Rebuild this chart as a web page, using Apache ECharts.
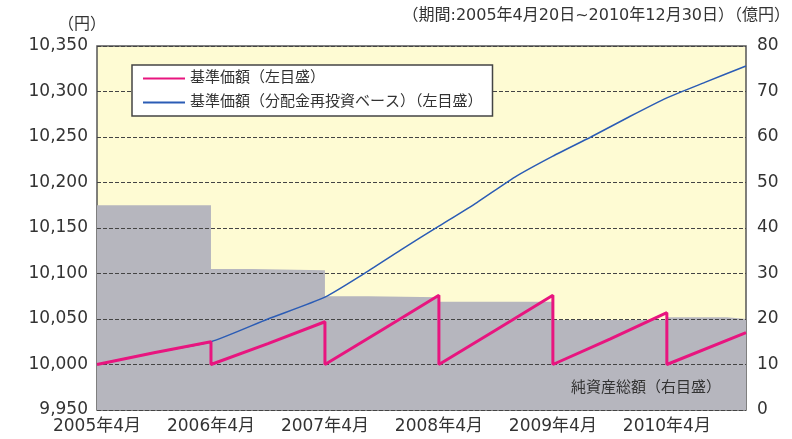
<!DOCTYPE html>
<html>
<head>
<meta charset="utf-8">
<script src="https://cdn.jsdelivr.net/npm/echarts@6/dist/echarts.min.js"></script>
<style>
html,body{margin:0;padding:0;background:#fff;}
#c{width:792px;height:439px;}
</style>
</head>
<body>
<div id="c"></div>
<script>
// ---- data ----
const xTickLabels = ['2005年4月','2006年4月','2007年4月','2008年4月','2009年4月','2010年4月'];
const startDate = '2005-04-20';
const endDate = '2010-12-30';

// 基準価額 (left axis) – sawtooth (two values at each distribution date)
const navDates = ['2005-04-20','2005-10-20','2006-04-20','2006-04-20','2006-10-20','2007-04-20','2007-04-20','2007-10-20','2008-04-20','2008-04-20','2008-10-20','2009-04-20','2009-04-20','2009-10-20','2010-04-20','2010-04-20','2010-12-30'];
const navValues = [10000,10013,10025,10000,10023,10047,10000,10038,10076,10000,10038,10076,10000,10028,10057,10000,10035];

// 基準価額(分配金再投資ベース) (left axis)
const reinvDates = ['2005-04-20','2005-10-20','2006-04-20','2006-10-20','2007-04-20','2007-08-20','2007-12-20','2008-04-20','2008-08-20','2008-12-20','2009-04-20','2009-08-20','2009-12-20','2010-04-20','2010-08-20','2010-12-30'];
const reinvValues = [10000,10013,10025,10050,10074,10099,10126,10152,10178,10206,10229,10250,10272,10293,10310,10328];

// 純資産総額 (right axis, 億円)
const assetDates = ['2005-04-20','2006-04-20','2006-09-01','2007-04-20','2007-09-06','2008-04-20','2009-04-20','2010-04-20','2010-10-30','2010-12-30'];
const assetValues = [45,31,30.7,25,24.8,23.8,19.8,20.4,20,20];

const seriesNames = ['基準価額（左目盛）','基準価額（分配金再投資ベース）（左目盛）','純資産総額（右目盛）'];

// ---- helpers ----
function toMonth(s){
  const [y,m,d] = s.split('-').map(Number);
  return (y-2005)*12 + (m-4) + (d-20)/30;
}
function pairs(ds, vs){ return ds.map((d,i)=>[toMonth(d), vs[i]]); }
function fmtComma(v){ return String(v).replace(/\B(?=(\d{3})+(?!\d))/g, ','); }

const FONT = "'DejaVu Sans', 'Noto Sans CJK JP', sans-serif";
const chart = echarts.init(document.getElementById('c'));
chart.setOption({
  animation:false,
  backgroundColor:'#ffffff',
  textStyle:{fontFamily:FONT},
  grid:{left:97, right:46, top:46, bottom:29, show:true, backgroundColor:'#fefbd3', borderColor:'#555', borderWidth:1.5, containLabel:false},
  legend:{
    data:[seriesNames[0], seriesNames[1]],
    orient:'vertical', left:132, top:65,
    backgroundColor:'#ffffff', borderColor:'#444', borderWidth:1.5, borderRadius:0,
    padding:[6,10,6,10], itemWidth:42, itemHeight:14, itemGap:9,
    itemStyle:{opacity:0},
    textStyle:{fontFamily:FONT, fontSize:15, color:'#333'}
  },
  xAxis:{
    type:'value', min:0, max:toMonth(endDate), interval:12,
    axisLine:{show:false},
    axisTick:{show:true, inside:true, length:5, lineStyle:{color:'#555'}},
    splitLine:{show:false},
    axisLabel:{fontFamily:FONT, fontSize:17, color:'#333', margin:8, showMaxLabel:false,
      formatter:(v)=>{ const i=Math.round(v/12); return (Math.abs(v-i*12)<0.01 && xTickLabels[i]) ? xTickLabels[i] : ''; }}
  },
  yAxis:[{
    type:'value', min:9950, max:10350, interval:50, z:3,
    axisLine:{show:false}, axisTick:{show:false},
    splitLine:{show:true, lineStyle:{color:'#444', type:[4,2], width:1}},
    axisLabel:{fontFamily:FONT, fontSize:17, color:'#333', margin:9, formatter:(v)=>fmtComma(v)}
  },{
    type:'value', min:0, max:80, interval:10, position:'right',
    axisLine:{show:false}, axisTick:{show:false}, splitLine:{show:false},
    axisLabel:{fontFamily:FONT, fontSize:17, color:'#333', margin:11}
  }],
  series:[{
    name:seriesNames[2], type:'line', yAxisIndex:1, step:'end', z:1,
    symbol:'none', lineStyle:{width:0}, areaStyle:{color:'#b6b6be', opacity:1},
    data:pairs(assetDates, assetValues)
  },{
    name:seriesNames[1], type:'line', yAxisIndex:0, z:5,
    symbol:'none', smooth:0.2, lineStyle:{color:'#2b5cb5', width:1.5},
    itemStyle:{color:'#2b5cb5'},
    data:pairs(reinvDates, reinvValues)
  },{
    name:seriesNames[0], type:'line', yAxisIndex:0, z:6,
    symbol:'none', lineStyle:{color:'#e8157f', width:3},
    itemStyle:{color:'#e8157f'},
    data:pairs(navDates, navValues)
  }],
  graphic:[
    {type:'text', left:58, top:17, style:{text:'（円）', font:"16px "+FONT, fill:'#333'}},
    {type:'text', right:2, top:8, style:{text:'（期間:2005年4月20日~2010年12月30日）（億円）', font:"16px "+FONT, fill:'#333'}},
    {type:'text', left:571, top:381, z:10, style:{text:'純資産総額（右目盛）', font:"15px "+FONT, fill:'#333'}}
  ]
});
</script>
</body>
</html>
